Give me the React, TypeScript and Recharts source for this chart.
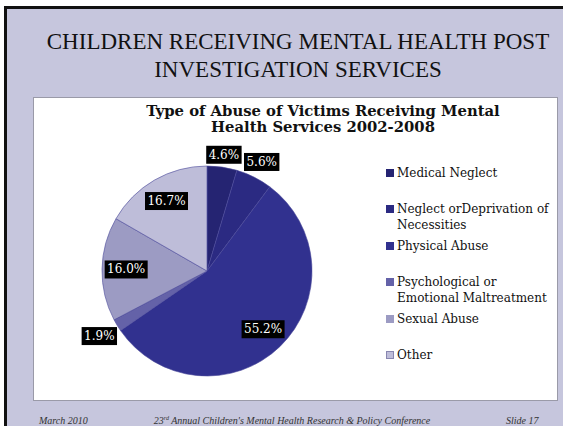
import React from 'react';
import { PieChart, Pie, Cell, Legend } from 'recharts';

// Share of victims by type of abuse, 2002-2008 (percent)
const categories = [
  'Medical Neglect',
  'Neglect orDeprivation of Necessities',
  'Physical Abuse',
  'Psychological or Emotional Maltreatment',
  'Sexual Abuse',
  'Other',
];
const shares = [4.6, 5.6, 55.2, 1.9, 16.0, 16.7];
const sliceColors = ['#252472', '#2b2a82', '#31318f', '#6462a8', '#9c9bc3', '#bebdd9'];

const data = categories.map((name, i) => ({ name, value: shares[i] }));

const RADIAN = Math.PI / 180;
const serif = '"DejaVu Serif", Georgia, serif';

// black box labels, inside for big slices, just outside for small ones
const renderLabel = (props: any) => {
  const { cx, cy, midAngle, outerRadius, value } = props;
  const text = `${Number(value).toFixed(1)}%`;
  const w = text.length * 7.6 + 5;
  const h = 18;
  const cos = Math.cos(-midAngle * RADIAN);
  const sin = Math.sin(-midAngle * RADIAN);
  let r: number;
  if (value < 10) {
    r = outerRadius + 1 + Math.abs(cos) * (w / 2) + Math.abs(sin) * (h / 2);
  } else {
    r = outerRadius * 0.77;
  }
  const x = cx + r * cos;
  const y = cy + r * sin;
  return (
    <g>
      <rect x={x - w / 2} y={y - h / 2} width={w} height={h} fill="#000" />
      <text
        x={x}
        y={y}
        fill="#fff"
        fontSize={12}
        fontFamily={serif}
        textAnchor="middle"
        dominantBaseline="central"
      >
        {text}
      </text>
    </g>
  );
};

const renderLegend = (props: any) => {
  // keep the slice order, not the alphabetical one
  const payload = [...(props.payload || [])].sort(
    (a: any, b: any) => categories.indexOf(a.value) - categories.indexOf(b.value)
  );
  return (
    <div>
      {payload.map((entry: any, i: number) => (
        <div key={i} style={{ height: 36.4, display: 'flex', alignItems: 'flex-start' }}>
          <div
            style={{
              width: 8,
              height: 8,
              marginTop: 4,
              marginRight: 3,
              flex: 'none',
              background: entry.color,
              border: entry.value === 'Other' ? '1px solid #8886b0' : 'none',
              boxSizing: 'border-box',
            }}
          />
          <div
            style={{
              fontFamily: serif,
              fontSize: 12,
              lineHeight: '16px',
              color: '#111',
              width: 158,
            }}
          >
            {entry.value}
          </div>
        </div>
      ))}
    </div>
  );
};

const App: React.FC = () => {
  return (
    <div
      style={{
        position: 'absolute',
        left: 0,
        top: 0,
        width: 563,
        height: 426,
        overflow: 'hidden',
        background: '#fff',
      }}
    >
      {/* slide */}
      <div
        style={{
          position: 'absolute',
          left: 4,
          top: 6,
          width: 559,
          height: 420,
          background: '#c6c6dd',
          borderTop: '3px solid #111',
          borderLeft: '3px solid #111',
          boxSizing: 'border-box',
        }}
      />
      <div
        style={{
          position: 'absolute',
          left: 20,
          top: 28,
          width: 556,
          textAlign: 'center',
          fontFamily: '"Liberation Serif", "Times New Roman", serif',
          fontSize: 23,
          lineHeight: '28px',
          color: '#111',
          whiteSpace: 'nowrap',
        }}
      >
        CHILDREN RECEIVING MENTAL HEALTH POST
        <br />
        INVESTIGATION SERVICES
      </div>

      {/* chart box */}
      <div
        style={{
          position: 'absolute',
          left: 33,
          top: 97,
          width: 525,
          height: 304,
          background: '#fff',
          border: '1px solid #9a9aa8',
          boxSizing: 'border-box',
        }}
      >
        <div
          style={{
            position: 'absolute',
            left: 0,
            top: 5,
            width: 578,
            textAlign: 'center',
            fontFamily: serif,
            fontWeight: 'bold',
            fontSize: 14.8,
            lineHeight: '16px',
            color: '#111',
            whiteSpace: 'nowrap',
          }}
        >
          Type of Abuse of Victims Receiving Mental
          <br />
          Health Services 2002-2008
        </div>
        <PieChart width={523} height={302} margin={{ top: 0, right: 0, bottom: 0, left: 0 }}>
          <Pie
            data={data}
            dataKey="value"
            nameKey="name"
            cx={173}
            cy={173}
            outerRadius={105}
            startAngle={90}
            endAngle={-270}
            stroke="#4c4a9a"
            strokeWidth={0.6}
            label={renderLabel}
            labelLine={false}
            isAnimationActive={false}
          >
            {data.map((d, i) => (
              <Cell key={d.name} fill={sliceColors[i]} />
            ))}
          </Pie>
          <Legend
            layout="vertical"
            verticalAlign="top"
            align="right"
            content={renderLegend}
            wrapperStyle={{ left: 352, top: 67, width: 170 }}
          />
        </PieChart>
      </div>

      {/* footer */}
      <div
        style={{
          position: 'absolute',
          left: 0,
          top: 415,
          width: 563,
          height: 14,
          fontFamily: '"Liberation Serif", "Times New Roman", serif',
          fontStyle: 'italic',
          fontSize: 10,
          lineHeight: '12px',
          color: '#333',
          whiteSpace: 'nowrap',
        }}
      >
        <span style={{ position: 'absolute', left: 39 }}>March 2010</span>
        <span style={{ position: 'absolute', left: 142, width: 300, textAlign: 'center' }}>
          23<sup style={{ fontSize: 6, lineHeight: 0 }}>rd</sup> Annual Children's Mental Health Research &amp; Policy Conference
        </span>
        <span style={{ position: 'absolute', left: 506 }}>Slide 17</span>
      </div>
    </div>
  );
};

export default App;
